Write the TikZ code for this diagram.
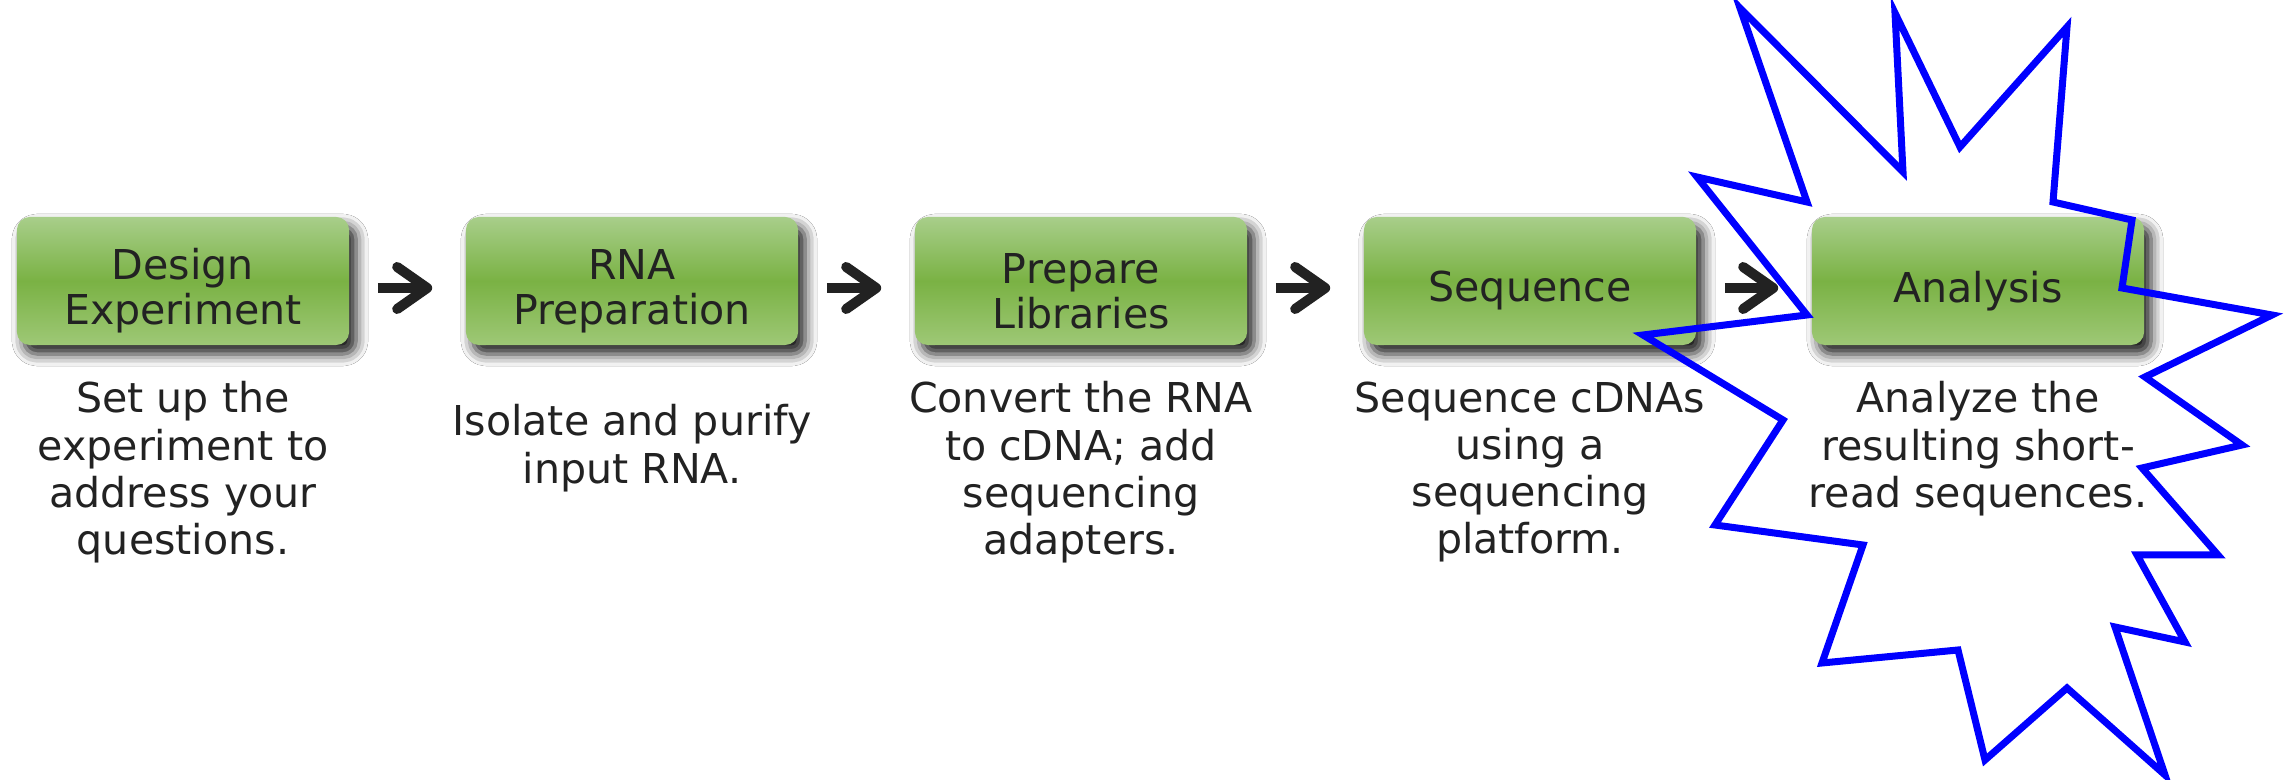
\documentclass[tikz,border=0pt]{standalone}
\usepackage{fontspec}
\setmainfont{DejaVu Sans}
\usepackage{tikz}
\usetikzlibrary{arrows.meta, shadows.blur}
\definecolor{boxtop}{RGB}{168,206,138}
\definecolor{boxmid}{RGB}{122,178,68}
\definecolor{boxbot}{RGB}{158,200,118}
\definecolor{txtgray}{RGB}{34,34,34}
\tikzset{
  stepbox/.style={rectangle, rounded corners=0.13cm, minimum width=3.32cm, minimum height=1.28cm,
    top color=boxtop, bottom color=boxbot, middle color=boxmid,
    blur shadow={shadow xshift=0.07cm, shadow yshift=-0.09cm, shadow blur radius=0.12cm, shadow opacity=90}},
  steplabel/.style={font=\fontsize{11.7}{12.8}\selectfont, text=txtgray, align=center, inner sep=0pt, yshift=-0.1cm},
  stepnote/.style={font=\fontsize{11.7}{13.4}\selectfont, text=txtgray, align=center, inner sep=0pt, anchor=north},
  flow/.style={draw=txtgray, line width=0.1cm, -{Straight Barb[length=0.3cm,width=0.42cm,round]},
    shorten <=0.28cm, shorten >=0.33cm},
  burst/.style={draw=blue, line width=0.07cm, line join=miter}
}

\begin{document}
\begin{tikzpicture}[x=0.01cm, y=-0.01cm]
\fill[white] (0,0) rectangle (2287,780);
\useasboundingbox (0,0) rectangle (2287,780);
% the five steps
\node[stepbox] (design) at (183,281) {};
\node[stepbox] (rna) at (632,281) {};
\node[stepbox] (prep) at (1081,281) {};
\node[stepbox] (seq) at (1530,281) {};
\node[stepbox] (anal) at (1978,281) {};
\node[steplabel] (designlbl) at (design.center) {Design\\Experiment};
\node[steplabel] (rnalbl) at (rna.center) {RNA\\Preparation};
\node[steplabel] (preplbl) at (prep.center) {Prepare\\Libraries};
\node[steplabel] (seqlbl) at (seq.center) {Sequence};
\node[steplabel] (anallbl) at (anal.center) {Analysis};
% arrows
\draw[flow] ([yshift=-0.07cm]design.east) -- ([yshift=-0.07cm]rna.west);
\draw[flow] ([yshift=-0.07cm]rna.east) -- ([yshift=-0.07cm]prep.west);
\draw[flow] ([yshift=-0.07cm]prep.east) -- ([yshift=-0.07cm]seq.west);
\draw[flow] ([yshift=-0.07cm]seq.east) -- ([yshift=-0.07cm]anal.west);
% notes below
\node[stepnote] (designtxt) at (183,381) {Set up the\\experiment to\\address your\\questions.};
\node[stepnote] (rnatxt) at (632,404) {Isolate and purify\\input RNA.};
\node[stepnote] (preptxt) at (1081,381) {Convert the RNA\\to cDNA; add\\sequencing\\adapters.};
\node[stepnote] (seqtxt) at (1530,381) {Sequence cDNAs\\using a\\sequencing\\platform.};
\node[stepnote] (analtxt) at (1978,381) {Analyze the\\resulting short-\\read sequences.};
% the burst
\draw[burst] (1740,8) -- (1903,172) -- (1895,13) -- (1960,147) -- (2067,27) -- (2053,202)
  -- (2132,220) -- (2122,288) -- (2272,315) -- (2145,377) -- (2242,445) -- (2142,468)
  -- (2218,555) -- (2137,555) -- (2185,642) -- (2115,627) -- (2165,775) -- (2067,688)
  -- (1985,760) -- (1958,650) -- (1822,663) -- (1863,545) -- (1715,525) -- (1783,420)
  -- (1643,335) -- (1807,315) -- (1697,177) -- (1807,202) -- cycle;
\end{tikzpicture}
\end{document}
